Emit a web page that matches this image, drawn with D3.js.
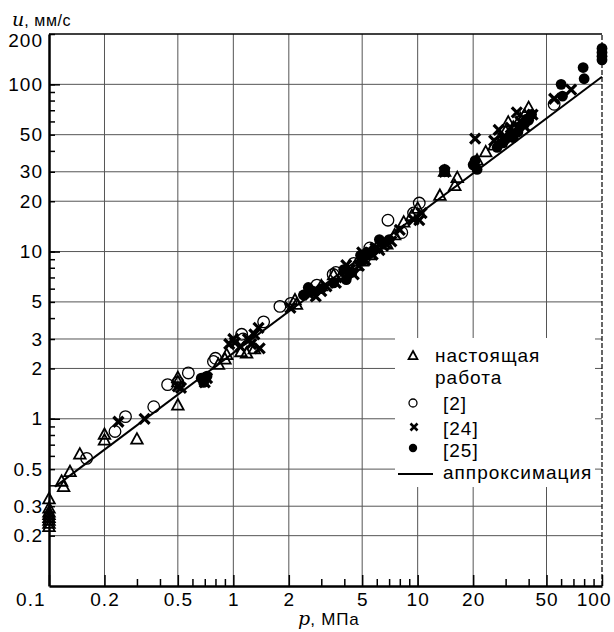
<!DOCTYPE html>
<html><head><meta charset="utf-8">
<script src="https://cdn.jsdelivr.net/npm/d3@7"></script>
<style>
body{margin:0;background:#fff;}
svg{display:block;}
text{font-family:"Liberation Sans",Arial,sans-serif;fill:#000;}
</style></head>
<body>
<svg id="c" width="614" height="632"></svg>
<script>
// ---------- data ----------
const xDomain = [0.1, 100];
const yDomain = [0.1, 200];
const xTickLabels = [0.1, 0.2, 0.5, 1, 2, 5, 10, 20, 50, 100];
const xMinorTicks = [0.3, 0.4, 0.6, 0.7, 0.8, 0.9, 3, 4, 6, 7, 8, 9, 30, 40, 60, 70, 80, 90];
const yTickLabels = [0.2, 0.3, 0.5, 1, 2, 3, 5, 10, 20, 30, 50, 100, 200];
const yMinorTicks = [0.4, 0.6, 0.7, 0.8, 0.9, 4, 6, 7, 8, 9, 40, 60, 70, 80, 90];
const yDecadeTicks = [1, 10, 100];
const gridX = [0.2, 0.5, 1, 2, 5, 10, 20, 50];
const gridY = [0.2, 0.3, 0.5, 1, 2, 3, 5, 10, 20, 30, 50, 100];

// настоящая работа (triangles)
const triP = [0.1,0.1,0.1,0.1,0.1,0.1,0.1,0.1, 0.117,0.12,0.13,0.147,0.2,0.2,0.3,0.5,0.5,0.5,
  0.83,0.9,0.92,1.1,1.18,1.3,2.16,2.2,3.0,3.5,4.2,4.6,5,5.5,6.0,6.8,7.5,8.4,9.3,10,13.2,15.9,16.4,14,23.4,21,26,28,30,31,33,36,40,38];
const triU = [0.33,0.29,0.275,0.265,0.255,0.245,0.235,0.225, 0.42,0.39,0.48,0.61,0.8,0.74,0.75,1.2,1.75,1.65,
  2.1,2.26,2.4,2.5,2.45,2.6,5.1,4.8,6.2,7.2,7.6,8.2,8.7,9.5,10.6,11,12.5,14.9,16.3,18,21.5,24.6,27.5,30,39.2,35,43,45,52,59,55,62,72,65];
// [2] (open circles)
const circP = [0.16,0.228,0.26,0.37,0.44,0.57,0.78,0.8,1.11,1.13,1.46,1.79,2.05,2.84,3.48,3.6,4.5,5.2,5.5,6.9,8.2,10.2,9.5,55,0.5];
const circU = [0.58,0.84,1.03,1.18,1.6,1.88,2.2,2.3,3.2,3.0,3.8,4.7,4.9,6.3,7.3,7.5,8.5,9.3,10.5,15.4,13,19.5,17,76,1.65];
// [24] (crosses)
const crossP = [0.238,0.33,0.5,0.52,0.7,0.72,0.95,1.0,1.02,1.09,1.2,1.25,1.37,1.39,1.3,2.04,2.6,2.8,3.0,3.2,3.6,4.1,4.0,4.3,4.5,4.8,5.0,5.2,5.7,5.9,6.2,6.5,6.7,7.2,8.0,9.5,10.2,10.5,14,20.5,26,27.5,29,32,34.5,36,38,42,55,68];
const crossU = [0.96,1.0,1.56,1.53,1.65,1.75,2.8,3.0,2.85,2.7,3.0,2.8,3.5,2.64,3.2,4.6,5.5,5.4,5.8,6.2,6.5,8.3,7.0,7.8,7.3,8.2,9.9,8.9,9.6,10.5,10.2,10.8,11.2,11.5,13.5,15.5,15.4,17,30,47.4,46,53.5,48,55,68,60,56,66,82,93];
// [25] (filled circles)
const dotP = [0.67,0.69,0.72,2.4,2.55,2.7,3.0,3.5,3.97,4.1,4.4,4.9,5.0,5.3,5.55,5.8,6.2,6.5,7.0,14,14,20,20.5,21,27,29,30,32,33,35,36,38,39,40,41.5,60,61,79,80,100,100,100,100];
const dotU = [1.75,1.65,1.8,5.5,6.1,5.8,6.0,6.5,7.8,6.8,7.5,9.5,8.8,9.9,9.8,10.3,11.8,11.3,11.8,30,31,33,35,31,42,44.7,47,50,48,52,56,58,62,61,66,100,85,126,108,164,155,147,140];
// аппроксимация (end points)
const fitP = [0.108, 100];
const fitU = [0.393, 111];

const legendLabels = ["настоящая", "работа", "[2]", "[24]", "[25]", "аппроксимация"];

// ---------- drawing ----------
const svg = d3.select("#c");
const x = d3.scaleLog().domain(xDomain).range([49, 602]);
const y = d3.scaleLog().domain(yDomain).range([586, 34]);
const gridColor = "#555";

// grid
svg.append("g").selectAll("line").data(gridX).join("line")
  .attr("x1", d => x(d)).attr("x2", d => x(d)).attr("y1", y(yDomain[0])).attr("y2", y(yDomain[1]))
  .attr("stroke", gridColor).attr("stroke-width", 1);
svg.append("g").selectAll("line").data(gridY).join("line")
  .attr("y1", d => y(d)).attr("y2", d => y(d)).attr("x1", x(xDomain[0])).attr("x2", x(xDomain[1]))
  .attr("stroke", gridColor).attr("stroke-width", 1);
// top border
svg.append("line").attr("x1", x(xDomain[0])).attr("x2", x(xDomain[1])).attr("y1", y(yDomain[1])).attr("y2", y(yDomain[1]))
  .attr("stroke", "#000").attr("stroke-width", 1.5);
// right border dashed
svg.append("line").attr("x1", x(xDomain[1])).attr("x2", x(xDomain[1])).attr("y1", y(yDomain[0])).attr("y2", y(yDomain[1]))
  .attr("stroke", "#000").attr("stroke-width", 1.2).attr("stroke-dasharray", "5,2");

// legend background
svg.append("rect").attr("x", 395).attr("y", 338).attr("width", 200).attr("height", 149).attr("fill", "#fff");

// axes
function styleAxis(g) {
  g.select(".domain").attr("stroke", "#000").attr("stroke-width", 2.5);
  g.selectAll(".tick line").attr("stroke", "#000").attr("stroke-width", 1.5);
  g.selectAll("text").attr("font-size", 19).attr("font-family", '"Liberation Sans", Arial, sans-serif').attr("letter-spacing", "1px");
}
const xAxisMinor = svg.append("g").attr("transform", `translate(0,${y(yDomain[0])})`)
  .call(d3.axisBottom(x).tickValues(xMinorTicks).tickSizeInner(-7).tickSizeOuter(0).tickFormat(""));
styleAxis(xAxisMinor);
const xAxisMajor = svg.append("g").attr("transform", `translate(0,${y(yDomain[0])})`)
  .call(d3.axisBottom(x).tickValues(xTickLabels).tickSizeInner(-11).tickSizeOuter(0).tickPadding(7)
    .tickFormat(d => String(d)));
styleAxis(xAxisMajor);
xAxisMajor.selectAll(".tick").filter(d => d === 0.1).select("text").attr("text-anchor", "end").attr("x", -4);
xAxisMajor.selectAll(".tick").filter(d => d === 100).select("text").attr("text-anchor", "end").attr("x", 9);

const yAxisMinor = svg.append("g").attr("transform", `translate(${x(xDomain[0])},0)`)
  .call(d3.axisLeft(y).tickValues(yMinorTicks).tickSizeInner(-6).tickSizeOuter(0).tickFormat(""));
styleAxis(yAxisMinor);
const yAxisMajor = svg.append("g").attr("transform", `translate(${x(xDomain[0])},0)`)
  .call(d3.axisLeft(y).tickValues(yTickLabels).tickSizeInner(-6).tickSizeOuter(0).tickPadding(6)
    .tickFormat(d => String(d)));
styleAxis(yAxisMajor);
yAxisMajor.selectAll(".tick").filter(d => d === 200).select("text").attr("dy", "0.65em");
const yAxisDecade = svg.append("g").attr("transform", `translate(${x(xDomain[0])},0)`)
  .call(d3.axisLeft(y).tickValues(yDecadeTicks).tickSizeInner(-11).tickSizeOuter(0).tickFormat(""));
styleAxis(yAxisDecade);
yAxisDecade.select(".domain").remove();
yAxisMinor.select(".domain").remove();
xAxisMinor.select(".domain").remove();

// axis titles
const yt = svg.append("text").attr("x", 12).attr("y", 26);
yt.append("tspan").attr("font-family", '"DejaVu Serif", serif').attr("font-style", "italic").attr("font-size", 19).text("u");
yt.append("tspan").attr("font-size", 16).attr("letter-spacing", "0.6px").text(", мм/с");
const xt = svg.append("text").attr("x", 298).attr("y", 625);
xt.append("tspan").attr("font-family", '"DejaVu Serif", serif').attr("font-style", "italic").attr("font-size", 19).text("p");
xt.append("tspan").attr("font-size", 17).attr("letter-spacing", "0.8px").text(", МПа");

// fit line
const line = d3.line().x(d => x(d[0])).y(d => y(d[1]));
svg.append("path").datum(d3.zip(fitP, fitU)).attr("d", line).attr("stroke", "#000").attr("stroke-width", 2).attr("fill", "none");

// markers
const triPath = s => `M0,${-s*0.62}L${s*0.55},${s*0.38}L${-s*0.55},${s*0.38}Z`;
const crossPath = s => `M${-s},${-s}L${s},${s}M${-s},${s}L${s},${-s}`;
const marks = svg.append("g");
marks.selectAll(".tri").data(d3.zip(triP, triU)).join("path").attr("class", "tri")
  .attr("transform", d => `translate(${x(d[0])},${y(d[1])})`).attr("d", triPath(10.5))
  .attr("fill", "none").attr("stroke", "#000").attr("stroke-width", 1.8);
marks.selectAll(".circ").data(d3.zip(circP, circU)).join("circle").attr("class", "circ")
  .attr("cx", d => x(d[0])).attr("cy", d => y(d[1])).attr("r", 5.8)
  .attr("fill", "none").attr("stroke", "#000").attr("stroke-width", 1.3);
marks.selectAll(".cross").data(d3.zip(crossP, crossU)).join("path").attr("class", "cross")
  .attr("transform", d => `translate(${x(d[0])},${y(d[1])})`).attr("d", crossPath(5))
  .attr("fill", "none").attr("stroke", "#000").attr("stroke-width", 3.2);
marks.selectAll(".dot").data(d3.zip(dotP, dotU)).join("circle").attr("class", "dot")
  .attr("cx", d => x(d[0])).attr("cy", d => y(d[1])).attr("r", 5.4).attr("fill", "#000");

// legend
const lg = svg.append("g");
lg.append("path").attr("transform", "translate(413,356)").attr("d", triPath(8)).attr("fill", "none").attr("stroke", "#000").attr("stroke-width", 1.8);
lg.append("circle").attr("cx", 413).attr("cy", 403).attr("r", 4).attr("fill", "none").attr("stroke", "#000").attr("stroke-width", 1.3);
lg.append("path").attr("transform", "translate(414,427)").attr("d", crossPath(3.5)).attr("fill", "none").attr("stroke", "#000").attr("stroke-width", 2.6);
lg.append("circle").attr("cx", 413).attr("cy", 448).attr("r", 4.2).attr("fill", "#000");
lg.append("line").attr("x1", 398).attr("x2", 433).attr("y1", 474).attr("y2", 474).attr("stroke", "#000").attr("stroke-width", 1.8);
const lgPos = [[435, 362], [435, 384], [443, 410], [443, 435], [443, 457], [443, 479]];
lg.selectAll("text").data(legendLabels).join("text")
  .attr("x", (d, i) => lgPos[i][0]).attr("y", (d, i) => lgPos[i][1])
  .attr("font-size", 19).attr("letter-spacing", "1px").text(d => d);
</script>
</body></html>
